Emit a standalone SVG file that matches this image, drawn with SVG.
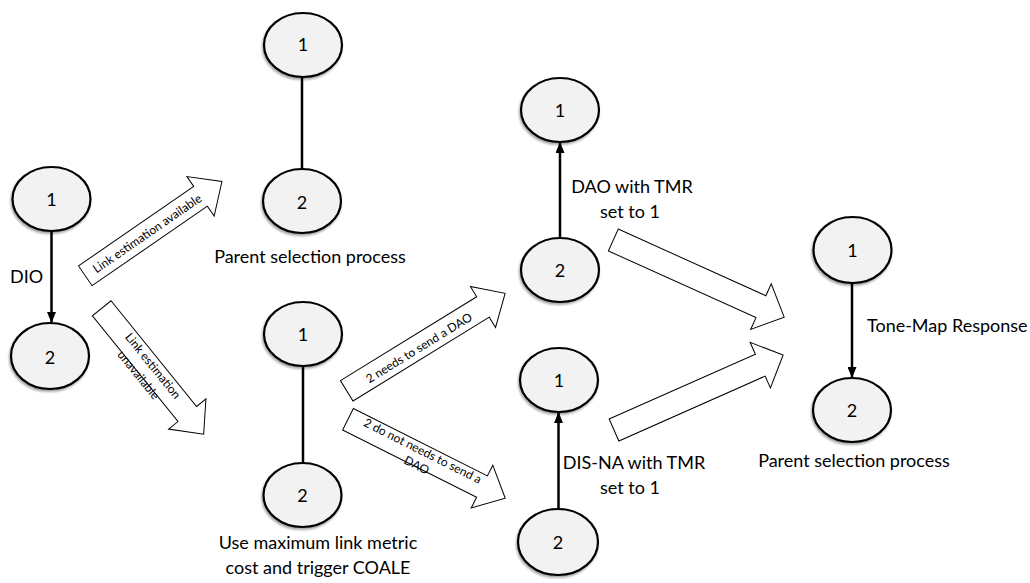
<svg xmlns="http://www.w3.org/2000/svg" width="1030" height="583" viewBox="0 0 1030 583">
<style>
.node ellipse{fill:#f2f2f2;stroke:#000;stroke-width:2.2;filter:url(#sh)}
.num{font-family:Lato,"Liberation Sans",sans-serif;font-size:18px;fill:#000;text-anchor:middle;dominant-baseline:central}
.lbl{font-family:Lato,"Liberation Sans",sans-serif;font-size:18px;fill:#000;text-anchor:middle}
.conn{stroke:#000;stroke-width:2.5;fill:none}
.blk polygon{fill:#fff;stroke:#000;stroke-width:1}
.blk text{font-family:Lato,"Liberation Sans",sans-serif;font-size:12px;fill:#000;text-anchor:middle;dominant-baseline:central}
</style>
<defs>
<filter id="sh" x="-20%" y="-20%" width="140%" height="150%">
<feDropShadow dx="-1" dy="2" stdDeviation="1.2" flood-color="#000" flood-opacity="0.35"/>
</filter>
<marker id="ah" markerUnits="userSpaceOnUse" markerWidth="11" markerHeight="9" refX="10" refY="4.5" orient="auto">
<path d="M0,0 L11,4.5 L0,9 z" fill="#000"/>
</marker>
</defs>
<rect width="1030" height="583" fill="#fff"/>

<g id="connectors">
<line class="conn" x1="51.5" y1="232" x2="51.5" y2="322" marker-end="url(#ah)"/>
<line class="conn" x1="302" y1="77" x2="302" y2="169"/>
<line class="conn" x1="303" y1="366" x2="303" y2="463"/>
<line class="conn" x1="560" y1="238" x2="560" y2="143" marker-end="url(#ah)"/>
<line class="conn" x1="558.5" y1="510" x2="558.5" y2="413" marker-end="url(#ah)"/>
<line class="conn" x1="852" y1="282" x2="852" y2="377" marker-end="url(#ah)"/>
</g>

<g id="block-arrows">
<g id="arrow-link-available" class="blk" transform="translate(85.3,275.8) rotate(-34.6)">
<polygon points="0,-12 140,-12 140,-24 166,0 140,24 140,12 0,12"/>
<text x="75" y="0">Link estimation available</text>
</g>
<g id="arrow-link-unavailable" class="blk" transform="translate(101.7,308.3) rotate(51)">
<polygon points="0,-12 136,-12 136,-24 162,0 136,24 136,12 0,12"/>
<text x="77" y="-4">Link estimation</text>
<text x="75" y="13">unavailable</text>
</g>
<g id="arrow-needs-dao" class="blk" transform="translate(346.7,390.8) rotate(-31.6)">
<polygon points="0,-12 160,-12 160,-24 186,0 160,24 160,12 0,12"/>
<text x="84" y="1">2 needs to send a DAO</text>
</g>
<g id="arrow-no-dao" class="blk" transform="translate(348,419.2) rotate(26.7)">
<polygon points="0,-12 150,-12 150,-24 176,0 150,24 150,12 0,12"/>
<text x="81" y="-5.5">2 do not needs to send a</text>
<text x="82" y="10">DAO</text>
</g>
<g id="arrow-dao-right" class="blk" transform="translate(613.3,240) rotate(24.3)">
<polygon points="0,-12 162,-12 162,-25 187.5,0 162,25 162,12 0,12"/>
</g>
<g id="arrow-disna-right" class="blk" transform="translate(614,430) rotate(-23.9)">
<polygon points="0,-12 160,-12 160,-25 185,0 160,25 160,12 0,12"/>
</g>
</g>

<g id="n-left1" class="node"><ellipse cx="51.5" cy="199" rx="39" ry="32"/><text class="num" x="51.5" y="199">1</text></g>
<g id="n-left2" class="node"><ellipse cx="50" cy="356" rx="39" ry="33"/><text class="num" x="50" y="357">2</text></g>
<g id="n-top1" class="node"><ellipse cx="303" cy="45" rx="39" ry="32"/><text class="num" x="303" y="44">1</text></g>
<g id="n-top2" class="node"><ellipse cx="302" cy="201" rx="39" ry="32"/><text class="num" x="302" y="202">2</text></g>
<g id="n-mid1" class="node"><ellipse cx="303" cy="334" rx="39" ry="32"/><text class="num" x="303" y="334">1</text></g>
<g id="n-mid2" class="node"><ellipse cx="302.5" cy="495" rx="39" ry="32"/><text class="num" x="302.5" y="495">2</text></g>
<g id="n-dao1" class="node"><ellipse cx="560" cy="110" rx="39" ry="32"/><text class="num" x="560" y="110">1</text></g>
<g id="n-dao2" class="node"><ellipse cx="560" cy="270" rx="39" ry="32"/><text class="num" x="560" y="270">2</text></g>
<g id="n-dis1" class="node"><ellipse cx="559" cy="380" rx="39" ry="32"/><text class="num" x="559" y="380">1</text></g>
<g id="n-dis2" class="node"><ellipse cx="558" cy="542" rx="40" ry="33"/><text class="num" x="558" y="542">2</text></g>
<g id="n-right1" class="node"><ellipse cx="852.5" cy="250" rx="39" ry="33"/><text class="num" x="852.5" y="250">1</text></g>
<g id="n-right2" class="node"><ellipse cx="852" cy="410" rx="39" ry="32"/><text class="num" x="852" y="410">2</text></g>

<g id="labels">
<text class="lbl" x="10" y="283" style="text-anchor:start">DIO</text>
<text class="lbl" x="310" y="263">Parent selection process</text>
<text class="lbl" x="318" y="549">Use maximum link metric</text>
<text class="lbl" x="318" y="574">cost and trigger COALE</text>
<text class="lbl" x="632" y="193">DAO with TMR</text>
<text class="lbl" x="630" y="218">set to 1</text>
<text class="lbl" x="634" y="469">DIS-NA with TMR</text>
<text class="lbl" x="630" y="494">set to 1</text>
<text class="lbl" x="867" y="332" style="text-anchor:start">Tone-Map Response</text>
<text class="lbl" x="854" y="467">Parent selection process</text>
</g>
</svg>
